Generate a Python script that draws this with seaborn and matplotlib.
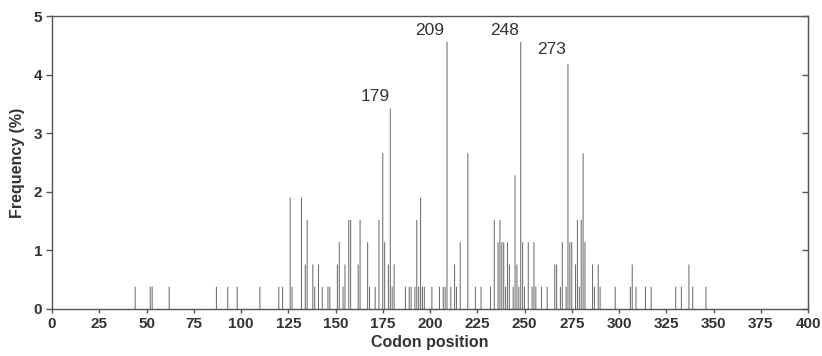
import matplotlib
matplotlib.use("Agg")
import matplotlib.pyplot as plt
import seaborn as sns
import pandas as pd

codons = [44, 52, 53, 62, 87, 93, 98, 110, 120, 122, 126, 127, 132, 134, 135, 138, 139, 141,
          143, 146, 147, 151, 152, 154, 155, 157, 158, 162, 163, 167, 168, 171, 173, 175, 176,
          178, 179, 180, 181, 187, 189, 190, 192, 193, 194, 195, 196, 197, 201, 205, 207, 208,
          209, 211, 213, 214, 216, 220, 224, 227, 232, 234, 236, 237, 238, 239, 240, 241, 242,
          244, 245, 246, 247, 248, 249, 250, 252, 254, 255, 256, 259, 262, 266, 267, 269, 270,
          272, 273, 274, 275, 277, 278, 279, 280, 281, 282, 286, 287, 289, 290, 298, 306, 307,
          309, 314, 317, 330, 333, 337, 339, 346]
freqs = [0.38, 0.38, 0.38, 0.38, 0.38, 0.38, 0.38, 0.38, 0.38, 0.38, 1.90, 0.38, 1.90, 0.76, 1.52, 0.76, 0.38, 0.76,
         0.38, 0.38, 0.38, 0.76, 1.14, 0.38, 0.76, 1.52, 1.52, 0.76, 1.52, 1.14, 0.38, 0.38, 1.52, 2.66, 1.14,
         0.76, 3.42, 0.38, 0.76, 0.38, 0.38, 0.38, 0.38, 1.52, 0.38, 1.90, 0.38, 0.38, 0.38, 0.38, 0.38, 0.38,
         4.56, 0.38, 0.76, 0.38, 1.14, 2.66, 0.38, 0.38, 0.38, 1.52, 1.14, 1.52, 1.14, 1.14, 0.38, 1.14, 0.76,
         0.38, 2.28, 0.76, 0.38, 4.56, 1.14, 0.38, 1.14, 0.38, 1.14, 0.38, 0.38, 0.38, 0.76, 0.76, 0.38, 1.14,
         0.38, 4.18, 1.14, 1.14, 0.76, 1.52, 0.38, 1.52, 2.66, 1.14, 0.76, 0.38, 0.76, 0.38, 0.38, 0.38, 0.76,
         0.38, 0.38, 0.38, 0.38, 0.38, 0.76, 0.38, 0.38]

hotspots = [179, 209, 248, 273]
hotspot_label_x = [171, 200, 239.5, 264.5]
hotspot_label_y = [3.62, 4.76, 4.76, 4.42]

xticks = list(range(0, 401, 25))
yticks = [0, 1, 2, 3, 4, 5]

df = pd.DataFrame({"codon": codons, "freq": freqs})

sns.set_style("white")
plt.rcParams["font.family"] = ["Liberation Sans", "DejaVu Sans"]

fig = plt.figure(figsize=(8.22, 3.56), dpi=100)
ax = fig.add_axes([52 / 822, 1 - 309 / 356, (808 - 52) / 822, (309 - 16) / 356])

sns.barplot(data=df, x="codon", y="freq", native_scale=True, width=0.55,
            color="#6e6e6e", linewidth=0, errorbar=None, ax=ax, saturation=1)
for p in ax.patches:
    p.set_snap(False)

for lab, lx, ly in zip(hotspots, hotspot_label_x, hotspot_label_y):
    ax.text(lx, ly, str(lab), ha="center", va="center", fontsize=12.5, color="#333333")

ax.set_xlim(0, 400)
ax.set_ylim(0, 5)
ax.set_xticks(xticks)
ax.set_xticklabels([str(t) for t in xticks])
ax.set_yticks(yticks)
ax.set_yticklabels([str(t) for t in yticks])
ax.set_xlabel("Codon position", fontsize=11.5, fontweight="bold", color="#333333", labelpad=3)
ax.set_ylabel("Frequency (%)", fontsize=11.5, fontweight="bold", color="#333333", labelpad=6)

for lbl in ax.get_xticklabels() + ax.get_yticklabels():
    lbl.set_fontweight("bold")
    lbl.set_fontsize(11)
    lbl.set_color("#333333")

for s in ax.spines.values():
    s.set_visible(True)
    s.set_color("#555555")
    s.set_linewidth(1.0)

ax.tick_params(axis="y", left=True, right=False, direction="out", length=4, width=1, color="#555555", pad=3)
ax.tick_params(axis="x", bottom=True, direction="out", length=3, width=1, color="#555555", pad=3)
ax2 = ax.secondary_yaxis("right")
ax2.set_yticks(yticks)
ax2.set_yticklabels([])
ax2.tick_params(direction="in", length=4, width=1, color="#555555")
ax2.spines["right"].set_color("#555555")

fig.savefig("out.png", dpi=100)
